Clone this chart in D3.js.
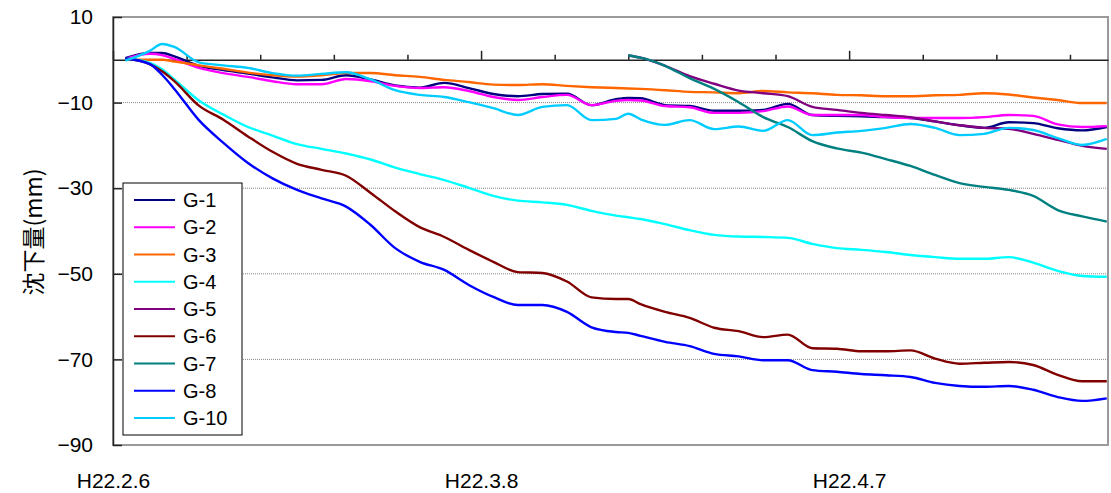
<!DOCTYPE html>
<html>
<head>
<meta charset="utf-8">
<script src="https://cdn.jsdelivr.net/npm/d3@7"></script>
<style>
  html, body { margin: 0; padding: 0; background: #fff; }
  svg { display: block; }
</style>
</head>
<body>
<div id="app"></div>
<script>
// days since H22.2.6
const days = [1, 3, 4, 5, 7, 9, 11, 13, 15, 17, 19, 21, 23, 25, 27, 29, 31, 33, 35, 37, 39, 41, 42,
  43, 45, 47, 49, 51, 53, 55, 57, 59, 61, 63, 65, 67, 69, 71, 73, 75, 77, 79, 81]

const g1 = [0.4, 1.6, 1.6, 0.8, -1.4, -2.4, -3.2, -4.1, -4.8, -4.7, -3.6, -4.6, -6.0, -6.5, -5.4, -6.6, -8.0, -8.5, -8.0, -7.9, -10.6, -9.2, -8.9,
  -9.0, -10.6, -10.8, -11.9, -11.9, -11.7, -10.3, -12.9, -13.1, -13.2, -13.4, -13.6, -14.4, -15.3, -15.9, -14.6, -14.8, -16.0, -16.5, -15.7]
const g2 = [0.2, 1.4, 1.1, 0.2, -1.9, -3.1, -4.0, -5.0, -5.7, -5.7, -4.5, -5.0, -6.1, -6.6, -6.4, -7.3, -8.7, -9.4, -8.7, -8.2, -10.6, -9.6, -9.4,
  -9.5, -10.8, -11.1, -12.4, -12.4, -12.0, -10.9, -12.9, -12.9, -12.9, -13.4, -13.6, -13.6, -13.6, -13.4, -12.9, -13.1, -15.1, -15.7, -15.5]
const g3 = [0.1, 0, 0, -0.4, -1.3, -2.1, -3.0, -3.6, -3.9, -3.6, -3.1, -3.1, -3.6, -4.0, -4.7, -5.2, -5.8, -5.9, -5.7, -6.1, -6.4, -6.6, -6.7,
  -6.8, -7.1, -7.5, -7.6, -7.8, -7.3, -7.6, -7.8, -8.2, -8.3, -8.5, -8.5, -8.3, -8.2, -7.8, -8.1, -8.8, -9.4, -10.1, -10.1]
const g4 = [0.3, -0.7, -2.2, -4.6, -9.5, -12.8, -15.7, -17.7, -19.7, -20.8, -21.9, -23.3, -25.2, -26.7, -28.1, -29.9, -31.8, -32.9, -33.3, -33.9, -35.3, -36.4, -36.8,
  -37.2, -38.4, -39.8, -40.9, -41.3, -41.4, -41.6, -43.0, -44.0, -44.4, -44.9, -45.6, -46.1, -46.5, -46.5, -46.1, -47.4, -49.3, -50.5, -50.7]
const g5 = [null, null, null, null, null, null, null, null, null, null, null, null, null, null, null, null, null, null, null, null, null, null, 1.0,
  0.5, -1.4, -3.8, -5.6, -7.2, -7.8, -8.5, -11.0, -11.7, -12.4, -12.9, -13.4, -14.4, -15.3, -15.9, -16.1, -17.3, -18.7, -20.1, -20.8]
const g6 = [0.3, -1.0, -2.7, -5.0, -10.7, -14.0, -17.9, -21.5, -24.3, -25.7, -27.1, -31.1, -35.4, -39.1, -41.4, -44.4, -47.2, -49.6, -49.8, -51.8, -55.5, -55.9, -55.9,
  -57.1, -58.9, -60.3, -62.6, -63.4, -64.8, -64.2, -67.4, -67.5, -68.1, -68.1, -67.9, -69.8, -71.0, -70.8, -70.6, -71.3, -73.6, -75.1, -75.1]
const g7 = [null, null, null, null, null, null, null, null, null, null, null, null, null, null, null, null, null, null, null, null, null, null, 1.0,
  0.5, -1.4, -4.3, -6.8, -9.9, -13.4, -15.7, -19.0, -20.7, -21.7, -23.2, -24.8, -26.9, -28.8, -29.7, -30.4, -31.8, -35.1, -36.6, -37.8]
const g8 = [0.3, -1.0, -3.5, -6.8, -14.1, -19.4, -24.1, -27.7, -30.4, -32.4, -34.3, -38.6, -44.0, -47.2, -49.1, -52.6, -55.4, -57.3, -57.3, -58.9, -62.5, -63.6, -63.8,
  -64.5, -65.9, -66.9, -68.7, -69.3, -70.2, -70.2, -72.5, -72.9, -73.4, -73.7, -74.1, -75.5, -76.2, -76.4, -76.2, -77.1, -78.8, -79.7, -79.1]
const g10 = [-0.2, 2.1, 3.7, 3.0, -0.6, -1.3, -1.9, -3.1, -3.7, -3.3, -2.9, -4.6, -7.1, -8.2, -8.7, -9.9, -11.3, -12.9, -11.0, -10.6, -14.1, -13.8, -12.6,
  -13.9, -15.2, -14.1, -16.2, -15.6, -16.6, -14.1, -17.6, -17.0, -16.6, -15.9, -15.0, -15.9, -17.6, -17.3, -15.9, -16.4, -18.3, -19.9, -18.5]

const seriesNames = ['G-1', 'G-2', 'G-3', 'G-4', 'G-5', 'G-6', 'G-7', 'G-8', 'G-10']
const seriesValues = [g1, g2, g3, g4, g5, g6, g7, g8, g10]
const seriesColors = ['#000080', '#ff00ff', '#ff6600', '#00ffff', '#800080', '#800000', '#008080', '#0000ff', '#00ccff']

const yTicks = [10, -10, -30, -50, -70, -90]
const yGrid = [-10, -30, -50, -70]
const xLabelDays = [0, 30, 60]
const xLabels = ['H22.2.6', 'H22.3.8', 'H22.4.7']
const yTitle = '沈下量(mm)'

const W = 1111
const H = 493
const plot = { left: 113, right: 1108, top: 17, bottom: 445 }
const start = new Date(2010, 1, 6)
const dayToDate = (d) => new Date(start.getTime() + d * 864e5)

const svg = d3.select('#app').append('svg').attr('width', W).attr('height', H)

const x = d3.scaleTime().domain([start, dayToDate(81.1)]).range([plot.left, plot.right])
const y = d3.scaleLinear().domain([-90, 10]).range([plot.bottom, plot.top])

// frame
svg.append('rect')
  .attr('x', plot.left).attr('y', plot.top)
  .attr('width', plot.right - plot.left).attr('height', plot.bottom - plot.top)
  .attr('fill', 'none').attr('stroke', '#9a9a9a').attr('stroke-width', 2)

// grid
svg.append('g')
  .selectAll('line')
  .data(yGrid)
  .join('line')
  .attr('x1', plot.left).attr('x2', plot.right)
  .attr('y1', (d) => y(d)).attr('y2', (d) => y(d))
  .attr('stroke', '#888').attr('stroke-width', 1).attr('stroke-dasharray', '1,1')

// y axis, ticks pointing inward
const yAxis = svg.append('g')
  .attr('transform', `translate(${plot.left},0)`)
  .call(d3.axisLeft(y).tickValues(yTicks).tickSizeInner(-9).tickSizeOuter(0).tickPadding(20))
yAxis.select('.domain').attr('stroke', '#222').attr('stroke-width', 1.5)
yAxis.selectAll('.tick line').attr('stroke', '#222').attr('stroke-width', 1.5)
yAxis.selectAll('text')
  .attr('font-family', '"Liberation Sans", Arial, sans-serif')
  .attr('font-size', 21).attr('fill', '#000')

// category axis along the zero line
const tickDates = d3.range(0, 79, 6).map(dayToDate)
const majorDates = xLabelDays.map(dayToDate)
const zeroAxis = svg.append('g')
  .attr('transform', `translate(0,${y(0)})`)
  .call(d3.axisTop(x).tickValues(tickDates).tickSizeOuter(0).tickFormat(''))
zeroAxis.select('.domain').attr('stroke', '#222').attr('stroke-width', 1.5)
zeroAxis.selectAll('.tick line')
  .attr('stroke', '#222').attr('stroke-width', 1.5)
  .attr('y2', (d) => (majorDates.some((m) => +m === +d) ? -9 : -5))

// date labels under the plot
const fmt = (d) => xLabels[majorDates.findIndex((m) => +m === +d)]
const xAxis = svg.append('g')
  .attr('transform', `translate(0,${plot.bottom})`)
  .call(d3.axisBottom(x).tickValues(majorDates).tickSize(0).tickPadding(28).tickFormat(fmt))
xAxis.select('.domain').remove()
xAxis.selectAll('text')
  .attr('font-family', '"Liberation Sans", Arial, sans-serif')
  .attr('font-size', 21).attr('fill', '#000')

// y title
svg.append('text')
  .attr('transform', 'translate(32,232) rotate(-90)')
  .attr('text-anchor', 'middle')
  .attr('dominant-baseline', 'central')
  .attr('font-family', '"Noto Sans CJK JP", sans-serif')
  .attr('font-size', 23)
  .attr('fill', '#000')
  .text(yTitle)

// lines
const line = d3.line()
  .defined((d) => d.v !== null)
  .x((d) => x(dayToDate(d.day)))
  .y((d) => y(d.v))
  .curve(d3.curveMonotoneX)

svg.append('g')
  .selectAll('path')
  .data(seriesValues.map((vals, i) => ({ name: seriesNames[i], color: seriesColors[i], pts: vals.map((v, j) => ({ day: days[j], v })) })))
  .join('path')
  .attr('d', (s) => line(s.pts))
  .attr('fill', 'none')
  .attr('stroke', (s) => s.color)
  .attr('stroke-width', 2.4)
  .attr('stroke-linejoin', 'round')

// legend
const legend = svg.append('g').attr('transform', 'translate(123,183)')
legend.append('rect')
  .attr('width', 119).attr('height', 252)
  .attr('fill', '#fff').attr('stroke', '#000').attr('stroke-width', 1)
const rowY = d3.scalePoint().domain(seriesNames).range([17, 235])
const rows = legend.selectAll('g.row')
  .data(seriesNames)
  .join('g')
  .attr('class', 'row')
  .attr('transform', (d) => `translate(0,${rowY(d)})`)
rows.append('line')
  .attr('x1', 11).attr('x2', 52)
  .attr('stroke', (d, i) => seriesColors[i]).attr('stroke-width', 2)
rows.append('text')
  .attr('x', 60)
  .attr('dy', '0.36em')
  .attr('font-family', '"Liberation Sans", Arial, sans-serif')
  .attr('font-size', 20)
  .attr('fill', '#000')
  .text((d) => d)
</script>
</body>
</html>
